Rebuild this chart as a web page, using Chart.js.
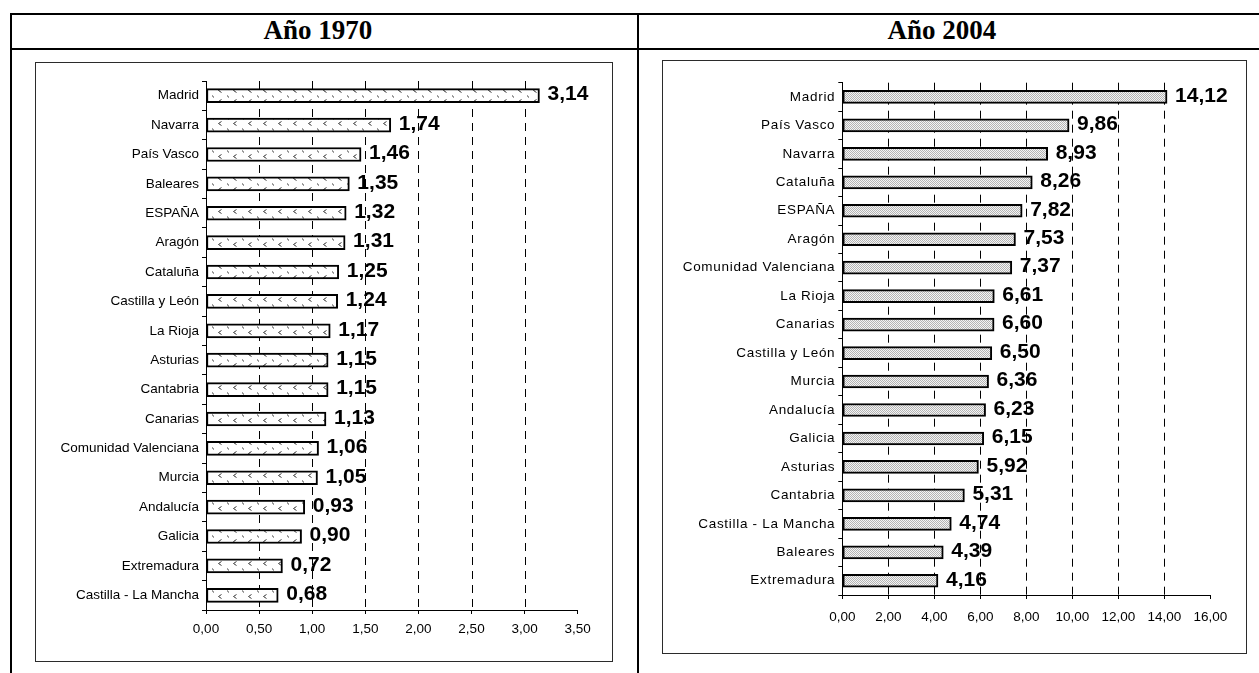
<!DOCTYPE html>
<html lang="es">
<head>
<meta charset="utf-8">
<title>Año 1970 / Año 2004</title>
<script src="https://cdn.jsdelivr.net/npm/chart.js@4.4.1/dist/chart.umd.min.js"></script>
<style>
  html, body { margin: 0; padding: 0; background: #fff; }
  body { width: 1259px; height: 673px; position: relative; overflow: hidden; }
  .rule { position: absolute; background: #000; }
  .title { position: absolute; top: 15px; height: 33px; line-height: 33px; text-align: center;
           font: bold 27px 'Liberation Serif', 'Times New Roman', serif; color: #000; }
  .frame { position: absolute; border: 1px solid #2b2b2b; box-sizing: border-box; }
  canvas { position: absolute; }
</style>
</head>
<body>
<!-- table rules -->
<div class="rule" style="left:10px;top:13px;width:1249px;height:2px"></div>
<div class="rule" style="left:10px;top:48px;width:1249px;height:2px"></div>
<div class="rule" style="left:10px;top:13px;width:2px;height:660px"></div>
<div class="rule" style="left:637px;top:13px;width:2px;height:660px"></div>
<div class="title" style="left:12px;width:612px">Año 1970</div>
<div class="title" style="left:639px;width:606px">Año 2004</div>

<div class="frame" style="left:35px;top:62px;width:578px;height:600px"></div>
<canvas id="c1970" width="578" height="600" style="left:35px;top:62px"></canvas>

<div class="frame" style="left:662px;top:60px;width:585px;height:594px"></div>
<canvas id="c2004" width="585" height="594" style="left:662px;top:60px"></canvas>

<script>
// ---- data ----
const regiones1970 = ['Madrid', 'Navarra', 'País Vasco', 'Baleares', 'ESPAÑA', 'Aragón', 'Cataluña',
  'Castilla y León', 'La Rioja', 'Asturias', 'Cantabria', 'Canarias', 'Comunidad Valenciana',
  'Murcia', 'Andalucía', 'Galicia', 'Extremadura', 'Castilla - La Mancha'];
const valores1970 = [3.14, 1.74, 1.46, 1.35, 1.32, 1.31, 1.25, 1.24, 1.17, 1.15, 1.15, 1.13,
  1.06, 1.05, 0.93, 0.90, 0.72, 0.68];
const ticks1970 = [0, 0.5, 1, 1.5, 2, 2.5, 3, 3.5];

const regiones2004 = ['Madrid', 'País Vasco', 'Navarra', 'Cataluña', 'ESPAÑA', 'Aragón',
  'Comunidad Valenciana', 'La Rioja', 'Canarias', 'Castilla y León', 'Murcia', 'Andalucía',
  'Galicia', 'Asturias', 'Cantabria', 'Castilla - La Mancha', 'Baleares', 'Extremadura'];
const valores2004 = [14.12, 9.86, 8.93, 8.26, 7.82, 7.53, 7.37, 6.61, 6.60, 6.50, 6.36, 6.23,
  6.15, 5.92, 5.31, 4.74, 4.39, 4.16];
const ticks2004 = [0, 2, 4, 6, 8, 10, 12, 14, 16];

// ---- helpers ----
const SANS = "'Liberation Sans', Arial, sans-serif";
const fmt = v => Number(v).toFixed(2).replace('.', ',');

// white fill with small chevron marks
function chevronPattern() {
  const c = document.createElement('canvas');
  c.width = 15; c.height = 11;
  const g = c.getContext('2d');
  g.fillStyle = '#fff'; g.fillRect(0, 0, 15, 11);
  g.strokeStyle = '#3a3a3a'; g.lineWidth = 1;
  g.beginPath();
  g.moveTo(6.5, 4.5); g.lineTo(3.5, 6.5); g.lineTo(6.5, 8.5);
  g.moveTo(12.5, 0.5); g.lineTo(13.5, 2.5);
  g.stroke();
  return g.createPattern(c, 'repeat');
}

// fine grey stipple
function stipplePattern() {
  const c = document.createElement('canvas');
  c.width = 2; c.height = 2;
  const g = c.getContext('2d');
  g.fillStyle = '#f4f4f4'; g.fillRect(0, 0, 2, 2);
  g.fillStyle = '#b4b4b4'; g.fillRect(0, 0, 1, 1); g.fillRect(1, 1, 1, 1);
  return g.createPattern(c, 'repeat');
}

// dashed vertical gridlines at the inner ticks, under the bars
const dashedGrid = {
  id: 'dashedGrid',
  beforeDatasetsDraw(chart) {
    const { ctx, chartArea: a, scales: { x } } = chart;
    const vals = chart.options.plugins.dashedGrid.values;
    ctx.save();
    ctx.strokeStyle = '#000';
    ctx.lineWidth = 1;
    ctx.setLineDash([8, 6]);
    vals.slice(1, -1).forEach(v => {
      const px = Math.round(x.getPixelForValue(v)) + 0.5;
      ctx.beginPath();
      ctx.moveTo(px, a.top);
      ctx.lineTo(px, a.bottom);
      ctx.stroke();
    });
    ctx.restore();
  }
};

// optional extra tracking for the category names
const categorySpacing = {
  id: 'categorySpacing',
  beforeDraw(chart) {
    const sp = chart.options.plugins.categorySpacing.spacing;
    const ys = chart.scales.y;
    if (!sp || ys._tracked) return;
    const base = ys.drawLabels.bind(ys);
    ys.drawLabels = function (area) {
      const c = this.ctx;
      c.save();
      c.letterSpacing = sp;
      base(area);
      c.restore();
    };
    ys._tracked = true;
  }
};

// value written after the end of each bar
const valueLabels = {
  id: 'valueLabels',
  afterDatasetsDraw(chart) {
    const { ctx } = chart;
    const meta = chart.getDatasetMeta(0);
    const values = chart.data.datasets[0].data;
    ctx.save();
    ctx.fillStyle = '#000';
    ctx.font = 'bold 21px ' + SANS;
    ctx.textAlign = 'left';
    ctx.textBaseline = 'middle';
    meta.data.forEach((bar, i) => {
      ctx.fillText(fmt(values[i]), bar.x + 8, bar.y - 1);
    });
    ctx.restore();
  }
};

function makeChart(id, labels, values, tickVals, fill, geom) {
  return new Chart(document.getElementById(id), {
    type: 'bar',
    data: {
      labels: labels,
      datasets: [{
        data: values,
        backgroundColor: fill,
        borderColor: '#000',
        borderWidth: 2,
        borderSkipped: false,
        barThickness: geom.bar
      }]
    },
    options: {
      indexAxis: 'y',
      responsive: false,
      animation: false,
      events: [],
      layout: { autoPadding: false, padding: { left: 0, top: geom.top, right: geom.right, bottom: 0 } },
      plugins: {
        legend: { display: false },
        tooltip: { enabled: false },
        dashedGrid: { values: tickVals },
        categorySpacing: { spacing: geom.spacing }
      },
      scales: {
        x: {
          type: 'linear',
          min: tickVals[0],
          max: tickVals[tickVals.length - 1],
          afterBuildTicks: s => { s.ticks = tickVals.map(v => ({ value: v })); },
          afterFit: s => { s.height = geom.xh; },
          grid: { drawOnChartArea: false, drawTicks: true, tickLength: 4, color: '#000' },
          border: { display: true, color: '#000', width: 1 },
          ticks: {
            color: '#000', font: { family: SANS, size: 13.5 }, padding: geom.xpad,
            maxRotation: 0, autoSkip: false, callback: v => fmt(v)
          }
        },
        y: {
          type: 'category',
          offset: true,
          afterFit: s => { s.width = geom.left; },
          grid: { drawOnChartArea: false, offset: true, drawTicks: true, tickLength: 4, color: '#000' },
          border: { display: true, color: '#000', width: 1 },
          ticks: { color: '#000', font: { family: SANS, size: 13.5 }, padding: 3, autoSkip: false }
        }
      }
    },
    plugins: [categorySpacing, dashedGrid, valueLabels]
  });
}

makeChart('c1970', regiones1970, valores1970, ticks1970, chevronPattern(),
  { left: 171, top: 19, right: 35.3, xh: 52, xpad: 7, bar: 14, spacing: null });
makeChart('c2004', regiones2004, valores2004, ticks2004, stipplePattern(),
  { left: 180.3, top: 22.7, right: 36.7, xh: 59, xpad: 10, bar: 13, spacing: '0.7px' });
</script>
</body>
</html>
